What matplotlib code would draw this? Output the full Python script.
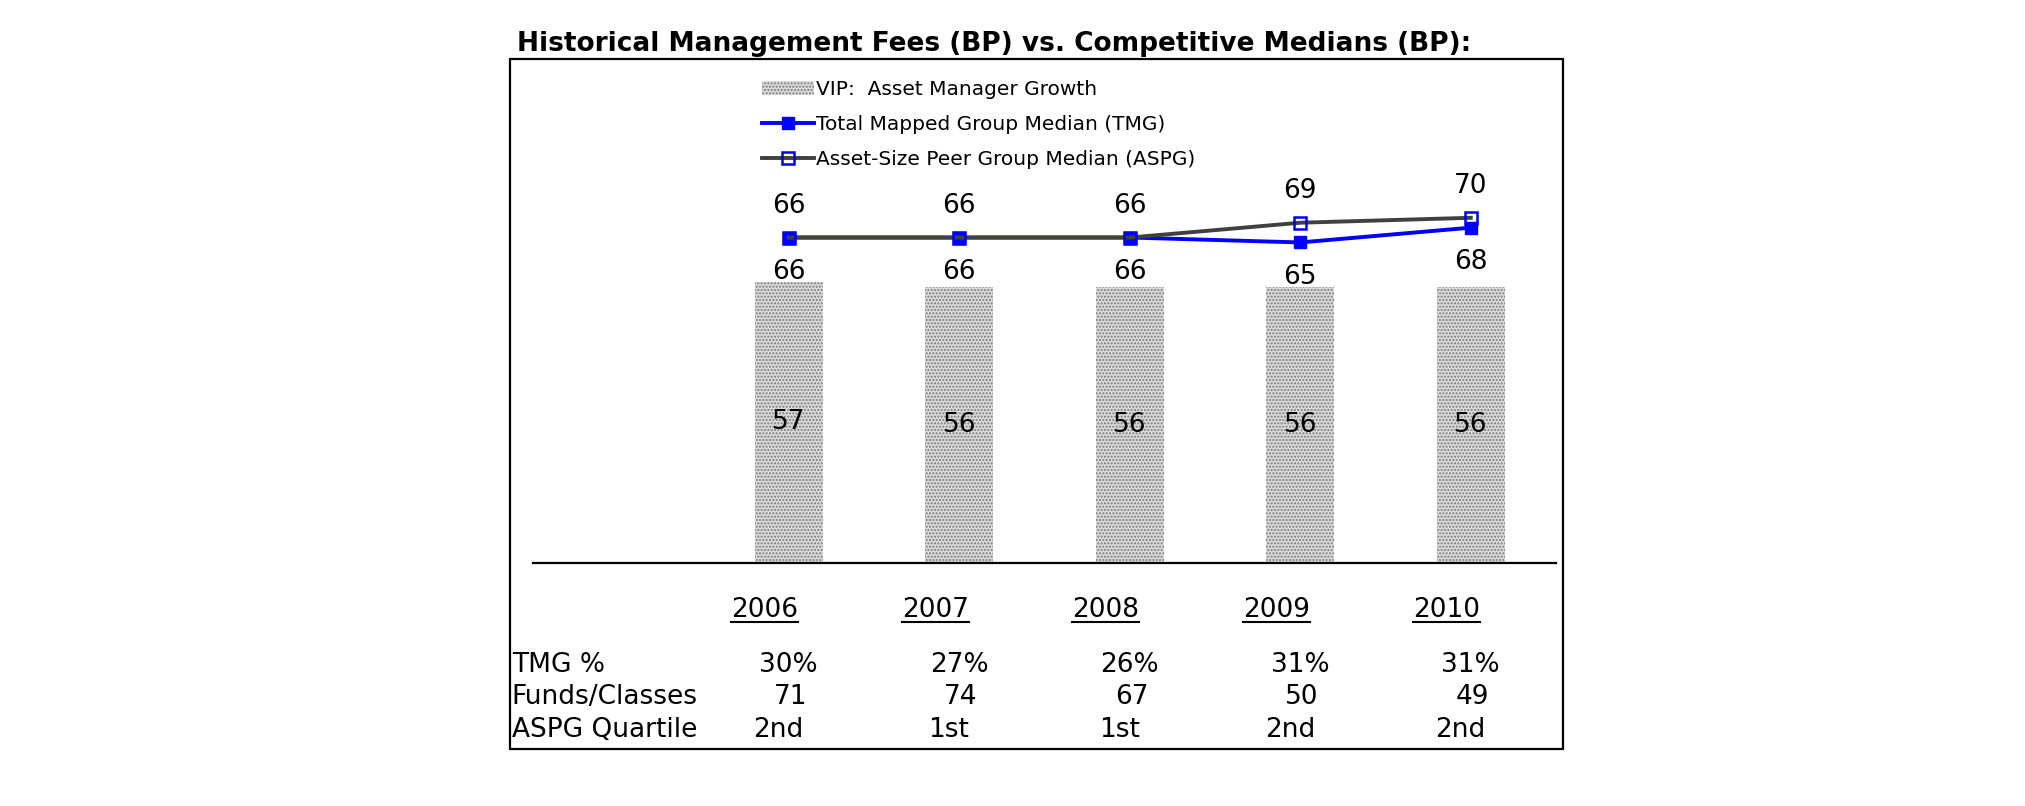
import matplotlib.pyplot as plt
from matplotlib.patches import Rectangle
from matplotlib.lines import Line2D

# --- data ---
years = ['2006', '2007', '2008', '2009', '2010']
vip = [57, 56, 56, 56, 56]
tmg = [66, 66, 66, 65, 68]
aspg = [66, 66, 66, 69, 70]
tmg_pct = ['30%', '27%', '26%', '31%', '31%']
funds = ['71', '74', '67', '50', '49']
quartile = ['2nd', '1st', '1st', '2nd', '2nd']
row_names = ['TMG %', 'Funds/Classes', 'ASPG Quartile']

plt.rcParams['font.family'] = ['DejaVu Sans']

fig = plt.figure(figsize=(20.25, 8.06), dpi=100)
ax = fig.add_axes([0.2632, 0.3015, 0.5052, 0.6253])

x = list(range(len(years)))

bars = ax.bar(x, vip, width=0.4, color='#dadada', edgecolor='#7a7a7a',
              hatch='.....', linewidth=0, zorder=1,
              label='VIP:  Asset Manager Growth')
l1, = ax.plot(x, tmg, color='#0000ff', lw=2.8, marker='s', ms=9, zorder=3,
              label='Total Mapped Group Median (TMG)')
l2, = ax.plot(x, aspg, color='#404040', lw=2.8, marker='s', ms=8, mfc='none',
              mec='#0000ff', mew=1.8, zorder=4,
              label='Asset-Size Peer Group Median (ASPG)')

ax.bar_label(bars, label_type='center', fontsize=19)
for i in x:
    ax.annotate(str(aspg[i]), (i, aspg[i]), xytext=(0, 23), textcoords='offset points',
                ha='center', va='center', fontsize=19)
    ax.annotate(str(tmg[i]), (i, tmg[i]), xytext=(0, -25), textcoords='offset points',
                ha='center', va='center', fontsize=19)

ax.set_xlim(-1.5, 4.5)
ax.set_ylim(0, 102.2)
ax.set_xticks([])
ax.set_yticks([])
for s in ['top', 'left', 'right']:
    ax.spines[s].set_visible(False)
ax.spines['bottom'].set_linewidth(1.6)
ax.patch.set_alpha(0)

# table under the chart
tr = ax.get_xaxis_transform()
year_txt = []
for i, yr in enumerate(years):
    t = ax.text(i - 0.14, -0.093, yr, transform=tr,
                ha='center', va='center', fontsize=19, clip_on=False)
    year_txt.append(t)
rows = [tmg_pct, funds, quartile]
row_y = [-0.202, -0.266, -0.331]
row_dx = [0.0, 0.01, -0.06]
for name, vals, yy, dx in zip(row_names, rows, row_y, row_dx):
    ax.text(-1.625, yy, name, transform=tr, ha='left', va='center', fontsize=19, clip_on=False)
    for i, v in enumerate(vals):
        ax.text(i + dx, yy, v, transform=tr, ha='center', va='center', fontsize=19, clip_on=False)

ax.legend(handles=[bars, l1, l2], loc='upper left',
          bbox_to_anchor=(762 / 2025, 1 - 80 / 806),
          bbox_transform=fig.transFigure, frameon=False, fontsize=14.5,
          handlelength=2.6, handletextpad=0.1, labelspacing=0.8,
          borderpad=0, borderaxespad=0)

fig.patches.append(Rectangle((0.2519, 0.0707), 0.52, 0.8561, transform=fig.transFigure,
                             fill=False, lw=1.6, ec='black'))
fig.text(517 / 2025, 1 - 44 / 806,
         'Historical Management Fees (BP) vs. Competitive Medians (BP):',
         ha='left', va='center', fontsize=19, fontweight='bold')

# underline the year labels
fig.canvas.draw()
inv = fig.transFigure.inverted()
for t in year_txt:
    bb = t.get_window_extent()
    (x0, y0), (x1, _) = inv.transform([(bb.x0, bb.y0 + 1), (bb.x1, bb.y0)])
    fig.lines.append(Line2D([x0, x1], [y0, y0], transform=fig.transFigure,
                            color='black', lw=1.5))

fig.savefig('out.png', dpi=100)
